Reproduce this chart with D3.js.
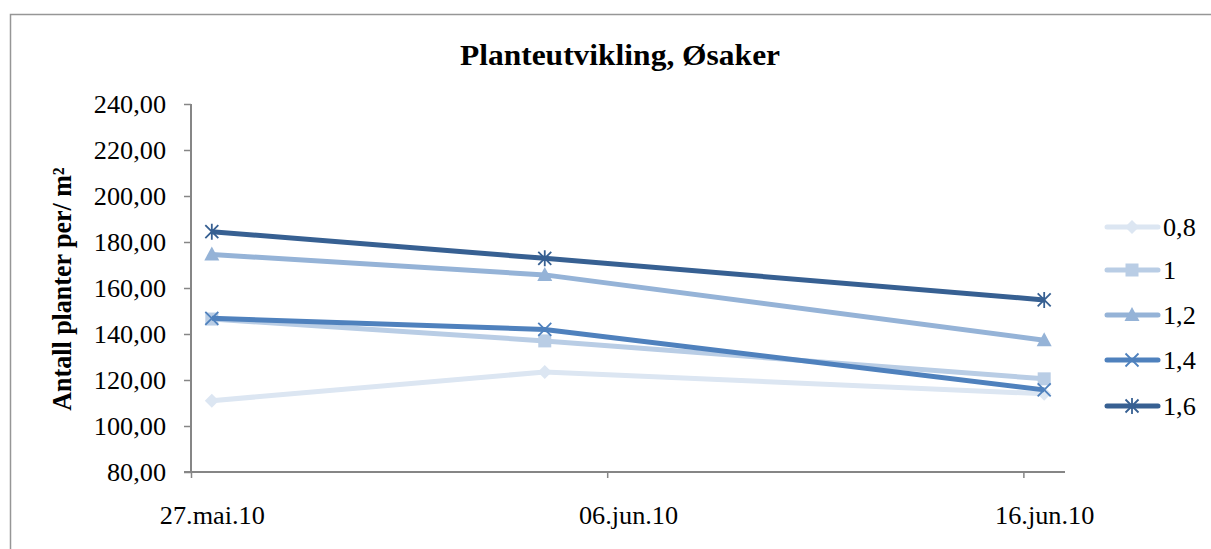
<!DOCTYPE html>
<html><head><meta charset="utf-8">
<script src="https://cdn.jsdelivr.net/npm/d3@7"></script>
<style>html,body{margin:0;padding:0;background:#fff;}svg{display:block;font-family:"Liberation Serif","Times New Roman",serif;}</style>
</head><body>
<script>
const dates = ["2010-05-27T12:00Z","2010-06-04T12:00Z","2010-06-16T12:00Z"];
const seriesNames = ["0,8","1","1,2","1,4","1,6"];
const s08 = [111.0, 123.5, 114.0];
const s10 = [146.5, 137.0, 120.5];
const s12 = [174.6, 165.7, 137.3];
const s14 = [146.8, 142.0, 115.7];
const s16 = [184.5, 172.9, 154.8];
const seriesValues = [s08, s10, s12, s14, s16];
const colors = ["#DCE6F2","#B9CDE5","#95B3D7","#4F81BD","#376092"];
const markers = ["diamond","square","triangle","x","star"];
const xTickDates = ["2010-05-27T00:00Z","2010-06-06T00:00Z","2010-06-16T00:00Z"];
const xTickLabels = ["27.mai.10","06.jun.10","16.jun.10"];
const yTicks = [80,100,120,140,160,180,200,220,240];
const title = "Planteutvikling, Øsaker";
const yTitle = "Antall planter per/ m²";

const W = 1211, H = 549, SX = 1.05, FS = 25;
const svg = d3.select("body").append("svg").attr("width", W).attr("height", H);
svg.append("rect").attr("x",10.5).attr("y",14.5).attr("width",W+10).attr("height",H+10)
  .attr("fill","none").attr("stroke","#969696").attr("stroke-width",1.5);

const x = d3.scaleUtc().domain([new Date("2010-05-27T00:00Z"), new Date("2010-06-17T00:00Z")]).range([191,1065]);
const y = d3.scaleLinear().domain([80,240]).range([472,104]);
const halfDay = x(new Date("2010-05-27T12:00Z")) - x(new Date("2010-05-27T00:00Z"));
const axisColor = "#868686";

// Y axis
const yAxis = svg.append("g").attr("transform","translate(191,0)")
  .call(d3.axisLeft(y).tickValues(yTicks).tickSize(7).tickFormat(d => d3.format(".2f")(d).replace(".",",")));
yAxis.select(".domain").attr("stroke",axisColor).attr("stroke-width",2).attr("d",`M0,${y(240)}H0V${y(80)}`);
yAxis.selectAll(".tick line").attr("stroke",axisColor).attr("stroke-width",1.5);
yAxis.selectAll(".tick text").attr("x",null).attr("dy",null)
  .attr("font-family","Liberation Serif").attr("font-size",FS).attr("fill","#000")
  .attr("text-anchor","end")
  .attr("transform", "translate(-25,8.5) scale(" + SX + ",1)");

// X axis
const xAxis = svg.append("g").attr("transform","translate(0,472)")
  .call(d3.axisBottom(x).tickValues(xTickDates.map(d=>new Date(d))).tickSize(6)
    .tickFormat((d,i)=>xTickLabels[i]));
xAxis.select(".domain").attr("stroke",axisColor).attr("stroke-width",2).attr("d",`M184,0H1065`);
xAxis.selectAll(".tick line").attr("stroke",axisColor).attr("stroke-width",1.5);
xAxis.selectAll(".tick text").attr("y",null).attr("dy",null)
  .attr("font-family","Liberation Serif").attr("font-size",FS).attr("fill","#000")
  .attr("transform", `translate(${halfDay},52) scale(${SX},1)`);

// Title
svg.append("text").attr("transform",`translate(620,65) scale(${SX},1)`)
  .attr("text-anchor","middle").attr("font-weight","bold").attr("font-size",30).text(title);
// Y title
svg.append("text").attr("transform",`translate(71,289) scale(${SX},1) rotate(-90)`)
  .attr("text-anchor","middle").attr("font-weight","bold").attr("font-size",26).text(yTitle);

function drawMarker(g, type, cx, cy, color){
  const s = 7;
  if(type==="diamond"){
    g.append("path").attr("d",`M${cx},${cy-s}L${cx+s},${cy}L${cx},${cy+s}L${cx-s},${cy}Z`).attr("fill",color);
  } else if(type==="square"){
    g.append("rect").attr("x",cx-6.5).attr("y",cy-6.5).attr("width",13).attr("height",13).attr("fill",color);
  } else if(type==="triangle"){
    g.append("path").attr("d",`M${cx},${cy-8}L${cx+7.5},${cy+6}L${cx-7.5},${cy+6}Z`).attr("fill",color);
  } else if(type==="x"){
    g.append("path").attr("d",`M${cx-6.5},${cy-6.5}L${cx+6.5},${cy+6.5}M${cx-6.5},${cy+6.5}L${cx+6.5},${cy-6.5}`)
      .attr("stroke",color).attr("stroke-width",1.8).attr("fill","none");
  } else if(type==="star"){
    g.append("path").attr("d",`M${cx-6.5},${cy-6.5}L${cx+6.5},${cy+6.5}M${cx-6.5},${cy+6.5}L${cx+6.5},${cy-6.5}M${cx},${cy-8}L${cx},${cy+8}`)
      .attr("stroke",color).attr("stroke-width",1.8).attr("fill","none");
  }
}

const line = d3.line().x((d,i)=>x(new Date(dates[i]))).y(d=>y(d));
seriesValues.forEach((vals, si)=>{
  const g = svg.append("g");
  g.append("path").datum(vals).attr("d",line).attr("fill","none")
    .attr("stroke",colors[si]).attr("stroke-width",5).attr("stroke-linejoin","round");
  vals.forEach((v,i)=>drawMarker(g, markers[si], x(new Date(dates[i])), y(v), colors[si]));
});

// Legend
const legY = [227, 270, 315, 360, 406];
seriesNames.forEach((n, si)=>{
  const g = svg.append("g");
  const ly = legY[si];
  g.append("line").attr("x1",1107).attr("x2",1158).attr("y1",ly).attr("y2",ly)
    .attr("stroke",colors[si]).attr("stroke-width",5).attr("stroke-linecap","round");
  drawMarker(g, markers[si], 1132, ly, colors[si]);
  g.append("text").attr("transform",`translate(1163,${ly+8.5}) scale(${SX},1)`)
    .attr("font-size",FS).attr("fill","#000").text(n);
});
</script>
</body></html>
